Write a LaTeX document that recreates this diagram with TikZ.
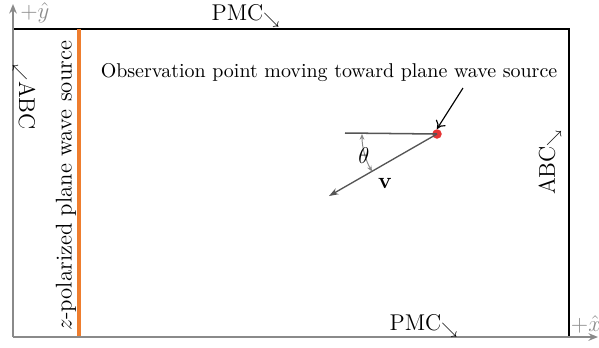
\documentclass[tikz,border=0pt]{standalone}
\usepackage{amsmath}
\usetikzlibrary{arrows.meta}
\definecolor{srcorange}{HTML}{EE7D2E}
\definecolor{axgray}{HTML}{8A8A8A}
\definecolor{dgray}{HTML}{555555}
\definecolor{ptred}{HTML}{E53535}
\begin{document}
\begin{tikzpicture}[x=0.5263pt,y=-0.5263pt,
  lbl/.style={inner sep=0pt, font=\large},
  axis/.style={axgray, line width=0.8pt, -{Stealth[length=5pt,width=4pt]}},
  box/.style={black, line width=0.9pt},
  vec/.style={dgray, line width=0.7pt, -{Stealth[length=5pt,width=3.5pt]}}]
\useasboundingbox (0,0) rectangle (599,347);
% box
\draw[box] (13,29) -- (569,29) -- (569,337) -- (13,337);
% source line
\draw[srcorange, line width=2pt] (79,29) -- (79,337);
% axes
\coordinate (o) at (13,337);
\coordinate (ytip) at (13,4);
\coordinate (xtip) at (598,337);
\draw[axis] (o) -- (ytip);
\draw[axis] (o) -- (xtip);
\node[lbl, text=axgray, anchor=west] (yl) at (20,13) {$+\hat{y}$};
\node[lbl, text=axgray] (xl) at (586,324) {$+\hat{x}$};
% labels
\node[lbl] (pmct) at (246,16) {PMC$_{\searrow}$};
\node[lbl] (pmcb) at (424,326) {PMC$_{\searrow}$};
\node[lbl, rotate=-90] (abcl) at (24,97) {${}_{\swarrow}$ABC};
\node[lbl, rotate=90] (abcr) at (550,162) {ABC$_{\searrow}$};
\node[lbl, rotate=90] (src) at (66,186) {$z$-polarized plane wave source};
\node[inner sep=0pt, font=\fontsize{10.5}{12}\selectfont] (obs) at (329,73) {Observation point moving toward plane wave source};
% observation point
\node[circle, fill=ptred, inner sep=0pt, minimum size=5pt] (pt) at (437,134) {};
\coordinate (hl) at (345,133);
\coordinate (vt) at (329,196);
\coordinate (ps) at (463,88);
\draw[dgray, line width=0.8pt] (hl) -- (pt.center);
\draw[vec] (pt.center) -- (vt);
\draw[black, line width=0.6pt, -{To[length=4pt,width=6pt]}] (ps) -- (pt.north);
\draw[axgray, line width=0.5pt, {Stealth[length=3pt,width=2.5pt]}-{Stealth[length=3pt,width=2.5pt]}] (pt.center) ++(180:75) arc[start angle=180, end angle=150, radius=75];
\node[lbl] (th) at (364,156) {$\theta$};
\node[lbl] (vl) at (385,183) {$\mathbf{v}$};
\end{tikzpicture}
\end{document}
